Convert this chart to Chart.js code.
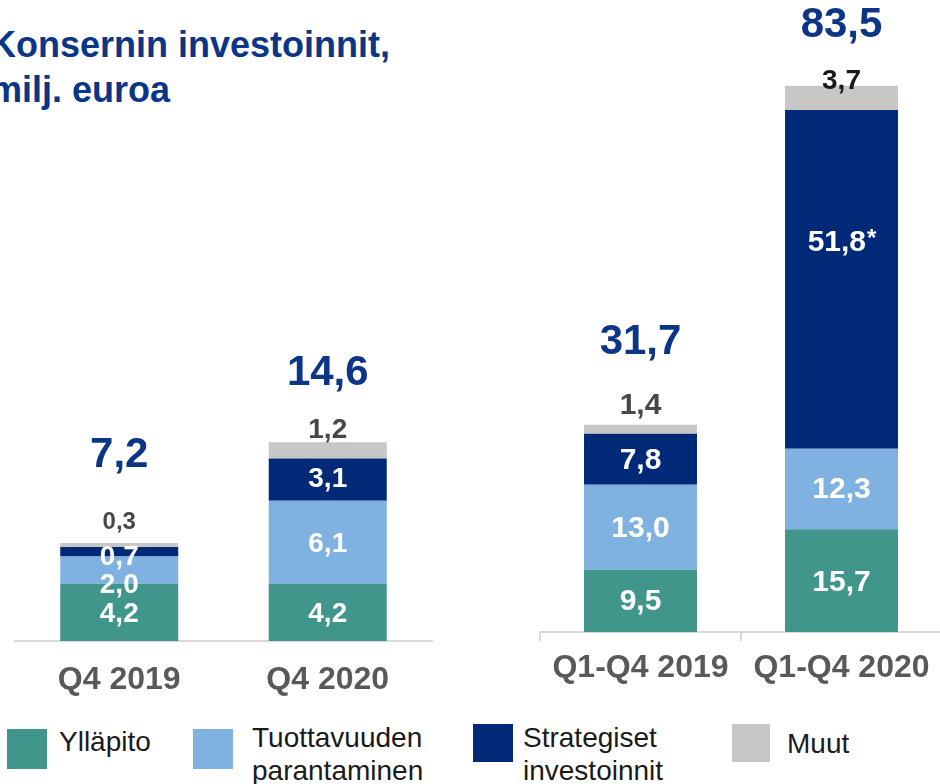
<!DOCTYPE html>
<html>
<head>
<meta charset="utf-8">
<script src="https://cdn.jsdelivr.net/npm/chart.js@4"></script>
<style>
  html, body { margin: 0; padding: 0; background: #ffffff; width: 940px; height: 784px; overflow: hidden; position: relative; }
  canvas { position: absolute; top: 0; }
  #leftChart { left: 0; }
  #rightChart { left: 520px; }
  .title { position: absolute; left: -10px; top: 22px; font: bold 36px/45px 'Liberation Sans', Arial, sans-serif; color: #0b3586; white-space: nowrap; }
  .sq { position: absolute; }
  .lg { position: absolute; font: 28px/33px 'Liberation Sans', Arial, sans-serif; color: #1a1a1a; white-space: nowrap; }
</style>
</head>
<body>
<div class="title">Konsernin investoinnit,<br>milj. euroa</div>
<canvas id="leftChart" width="460" height="720"></canvas>
<canvas id="rightChart" width="440" height="720"></canvas>
<div id="legend"></div>
<script>
// ---- Data ----
const leftCategories = ['Q4 2019', 'Q4 2020'];
const rightCategories = ['Q1-Q4 2019', 'Q1-Q4 2020'];
const seriesNames = ['Ylläpito', 'Tuottavuuden parantaminen', 'Strategiset investoinnit', 'Muut'];
const legendLines = [['Ylläpito'], ['Tuottavuuden', 'parantaminen'], ['Strategiset', 'investoinnit'], ['Muut']];

const yllapitoLeft = [4.2, 4.2];
const tuottavuusLeft = [2.0, 6.1];
const strategisetLeft = [0.7, 3.1];
const muutLeft = [0.3, 1.2];

const yllapitoRight = [9.5, 15.7];
const tuottavuusRight = [13.0, 12.3];
const strategisetRight = [7.8, 51.8];
const muutRight = [1.4, 3.7];

const strategisetRightMarks = ['', '*'];

// ---- Styles ----
const FONT = "'Liberation Sans', Arial, sans-serif";
const colors = ['#40968b', '#7fb2e1', '#002a78', '#c8c7c5'];
const TOTAL_COLOR = '#0b3586';

const leftStyle = {
  segFont: 28,
  nudge: { 0: [2, 2], 1: [15, 2], 2: [5, 0] },
  otherLift: [21, 12],
  otherFont: [24, 28],
  otherColor: ['#4a4646', '#4a4646'],
  totalLift: [88, 69]
};
const rightStyle = {
  segFont: 30,
  nudge: { 0: [1, 2], 1: [1, 1], 2: [1, -37] },
  otherLift: [19, 4],
  otherFont: [30, 28],
  otherColor: ['#4a4646', '#1a1a1a'],
  totalLift: [82, 60]
};

function fmt(v) { return (Math.round(v * 10) / 10).toFixed(1).replace('.', ','); }

function labelPlugin(style) {
  return {
    id: 'valueLabels',
    afterDatasetsDraw(chart) {
      const ctx = chart.ctx;
      const yScale = chart.scales.y;
      ctx.save();
      ctx.textBaseline = 'middle';
      chart.data.datasets.forEach((ds, di) => {
        const meta = chart.getDatasetMeta(di);
        meta.data.forEach((bar, i) => {
          const text = fmt(ds.data[i]);
          if (di < 3) {
            const cy = (bar.y + bar.base) / 2 + ((style.nudge[di] && style.nudge[di][i]) || 0);
            ctx.fillStyle = '#ffffff';
            const mark = (ds.marks && ds.marks[i]) || '';
            const bigFont = `bold ${style.segFont}px ${FONT}`;
            if (mark) {
              const smallFont = `bold ${Math.round(style.segFont * 0.8)}px ${FONT}`;
              ctx.font = bigFont;
              const w = ctx.measureText(text).width;
              ctx.font = smallFont;
              const mw = ctx.measureText(mark).width;
              const startX = bar.x - (w + mw) / 2;
              ctx.textAlign = 'left';
              ctx.font = bigFont;
              ctx.fillText(text, startX, cy);
              ctx.font = smallFont;
              ctx.fillText(mark, startX + w + 1, cy - 3);
            } else {
              ctx.textAlign = 'center';
              ctx.font = bigFont;
              ctx.fillText(text, bar.x, cy);
            }
          } else {
            ctx.textAlign = 'center';
            ctx.font = `bold ${style.otherFont[i]}px ${FONT}`;
            ctx.fillStyle = style.otherColor[i];
            ctx.fillText(text, bar.x, bar.y - style.otherLift[i]);
          }
        });
      });
      const n = chart.data.labels.length;
      for (let i = 0; i < n; i++) {
        const total = chart.data.datasets.reduce((s, ds) => s + ds.data[i], 0);
        const x = chart.getDatasetMeta(0).data[i].x;
        const py = yScale.getPixelForValue(total) - style.totalLift[i];
        ctx.textAlign = 'center';
        ctx.font = `bold 42px ${FONT}`;
        ctx.fillStyle = TOTAL_COLOR;
        ctx.fillText(fmt(total), x, py);
      }
      ctx.restore();
    }
  };
}

function makeChart(id, categories, series, marks, opts) {
  const datasets = series.map((data, k) => ({
    label: seriesNames[k],
    data: data,
    backgroundColor: colors[k],
    borderWidth: 0,
    barPercentage: opts.barPct,
    categoryPercentage: 1.0,
    marks: k === 2 ? marks : null
  }));
  return new Chart(document.getElementById(id), {
    type: 'bar',
    data: { labels: categories, datasets },
    options: {
      responsive: false,
      animation: false,
      devicePixelRatio: 1,
      layout: { padding: { left: opts.padLeft, right: opts.padRight, top: opts.padTop, bottom: 0 } },
      plugins: { legend: { display: false }, tooltip: { enabled: false }, title: { display: false } },
      scales: {
        x: {
          stacked: true,
          offset: true,
          grid: {
            display: opts.ticks,
            drawOnChartArea: false,
            drawTicks: opts.ticks,
            tickLength: 9,
            color: '#d9d9d9',
            lineWidth: 2
          },
          border: { display: true, color: '#d9d9d9', width: 2 },
          ticks: {
            padding: opts.tickPad,
            color: '#595959',
            font: { family: FONT, size: 32, weight: 'bold' }
          },
          afterFit: (scale) => { scale.height = opts.xHeight; }
        },
        y: {
          stacked: true,
          display: false,
          min: 0,
          max: opts.yMax
        }
      }
    },
    plugins: [labelPlugin(opts.style)]
  });
}

makeChart('leftChart', leftCategories,
  [yllapitoLeft, tuottavuusLeft, strategisetLeft, muutLeft], null,
  { barPct: 0.566, padLeft: 15, padRight: 28, padTop: 8, xHeight: 79, tickPad: 20, ticks: false, yMax: 46.5, style: leftStyle });

makeChart('rightChart', rightCategories,
  [yllapitoRight, tuottavuusRight, strategisetRight, muutRight], strategisetRightMarks,
  { barPct: 0.562, padLeft: 20, padRight: 18, padTop: 4, xHeight: 88, tickPad: 8, ticks: true, yMax: 96, style: rightStyle });

// ---- Legend ----
const legendBoxes = [
  { x: 7, y: 729, w: 40, h: 40, tx: 59, ty: 724.5 },
  { x: 193, y: 729, w: 40, h: 40, tx: 252, ty: 720.8 },
  { x: 473, y: 724, w: 40, h: 38, tx: 523, ty: 720.5 },
  { x: 732, y: 724, w: 38, h: 38, tx: 787, ty: 726.5 }
];
const legend = document.getElementById('legend');
legendLines.forEach((lines, k) => {
  const b = legendBoxes[k];
  const sq = document.createElement('div');
  sq.className = 'sq';
  sq.style.cssText = `left:${b.x}px;top:${b.y}px;width:${b.w}px;height:${b.h}px;background:${colors[k]};`;
  legend.appendChild(sq);
  const t = document.createElement('div');
  t.className = 'lg';
  t.style.left = b.tx + 'px';
  t.style.top = b.ty + 'px';
  t.innerHTML = lines.join('<br>');
  legend.appendChild(t);
});
</script>
</body>
</html>
